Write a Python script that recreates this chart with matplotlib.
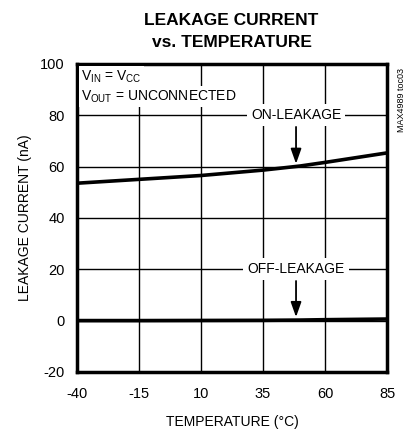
import matplotlib
matplotlib.use("Agg")
import matplotlib.pyplot as plt

plt.rcParams["font.family"] = ["Liberation Sans", "DejaVu Sans"]
plt.rcParams["axes.unicode_minus"] = False
plt.rcParams["mathtext.fontset"] = "custom"
plt.rcParams["mathtext.rm"] = "Liberation Sans"

temps = [-40, -15, 10, 35, 50, 60, 85]
on_leak = [53.5, 55.0, 56.5, 58.6, 60.2, 61.6, 65.3]
off_leak = [0.0, 0.0, 0.05, 0.1, 0.2, 0.35, 0.6]
x_ticks = [-40, -15, 10, 35, 60, 85]
y_ticks = [-20, 0, 20, 40, 60, 80, 100]

fig = plt.figure(figsize=(4.1, 4.34), dpi=100)
ax = fig.add_axes([0.188, 0.143, 0.756, 0.710])

ax.plot(temps, on_leak, color="black", lw=2.6, zorder=3)
ax.plot(temps, off_leak, color="black", lw=2.6, zorder=3)

ax.set_xlim(-40, 85)
ax.set_ylim(-20, 100)
ax.set_xticks(x_ticks)
ax.set_yticks(y_ticks)
ax.tick_params(axis="x", length=0, labelsize=10.5, pad=11, colors="black")
ax.tick_params(axis="y", length=0, labelsize=10.5, pad=9, colors="black")
ax.grid(True, color="black", lw=1.0)
for s in ax.spines.values():
    s.set_linewidth(2.5)

ax.set_xlabel("TEMPERATURE (°C)", fontsize=10, labelpad=10)
ax.set_ylabel("LEAKAGE CURRENT (nA)", fontsize=10, labelpad=6)

fig.text(0.565, 0.952, "LEAKAGE CURRENT", ha="center", va="center",
         fontsize=12.5, fontweight="bold")
fig.text(0.565, 0.901, "vs. TEMPERATURE", ha="center", va="center",
         fontsize=12.5, fontweight="bold")

box = dict(facecolor="white", edgecolor="none", pad=1.5)
ax.text(-38.3, 95.0, r"V$_{\mathregular{IN}}$ = V$_{\mathregular{CC}}$",
        fontsize=10, va="center", ha="left", bbox=box, zorder=4)
ax.text(-38.3, 87.2, r"V$_{\mathregular{OUT}}$ = UNCONNECTED",
        fontsize=10, va="center", ha="left", bbox=box, zorder=4)

box2 = dict(facecolor="white", edgecolor="none", pad=3)
ax.text(48.3, 80, "ON-LEAKAGE", fontsize=10, ha="center", va="center",
        bbox=box2, zorder=4)
ax.annotate("", xy=(48.3, 60.0), xytext=(48.3, 76.5),
            arrowprops=dict(arrowstyle="-|>,head_length=0.9,head_width=0.32",
                            color="black", lw=1.3), zorder=4)
ax.text(48.3, 20, "OFF-LEAKAGE", fontsize=10, ha="center", va="center",
        bbox=box2, zorder=4)
ax.annotate("", xy=(48.3, 0.3), xytext=(48.3, 16.5),
            arrowprops=dict(arrowstyle="-|>,head_length=0.9,head_width=0.32",
                            color="black", lw=1.3), zorder=4)

fig.text(0.979, 0.77, "MAX4989 toc03", rotation=90, ha="center",
         va="center", fontsize=6.5)

fig.savefig("out.png", dpi=100)
